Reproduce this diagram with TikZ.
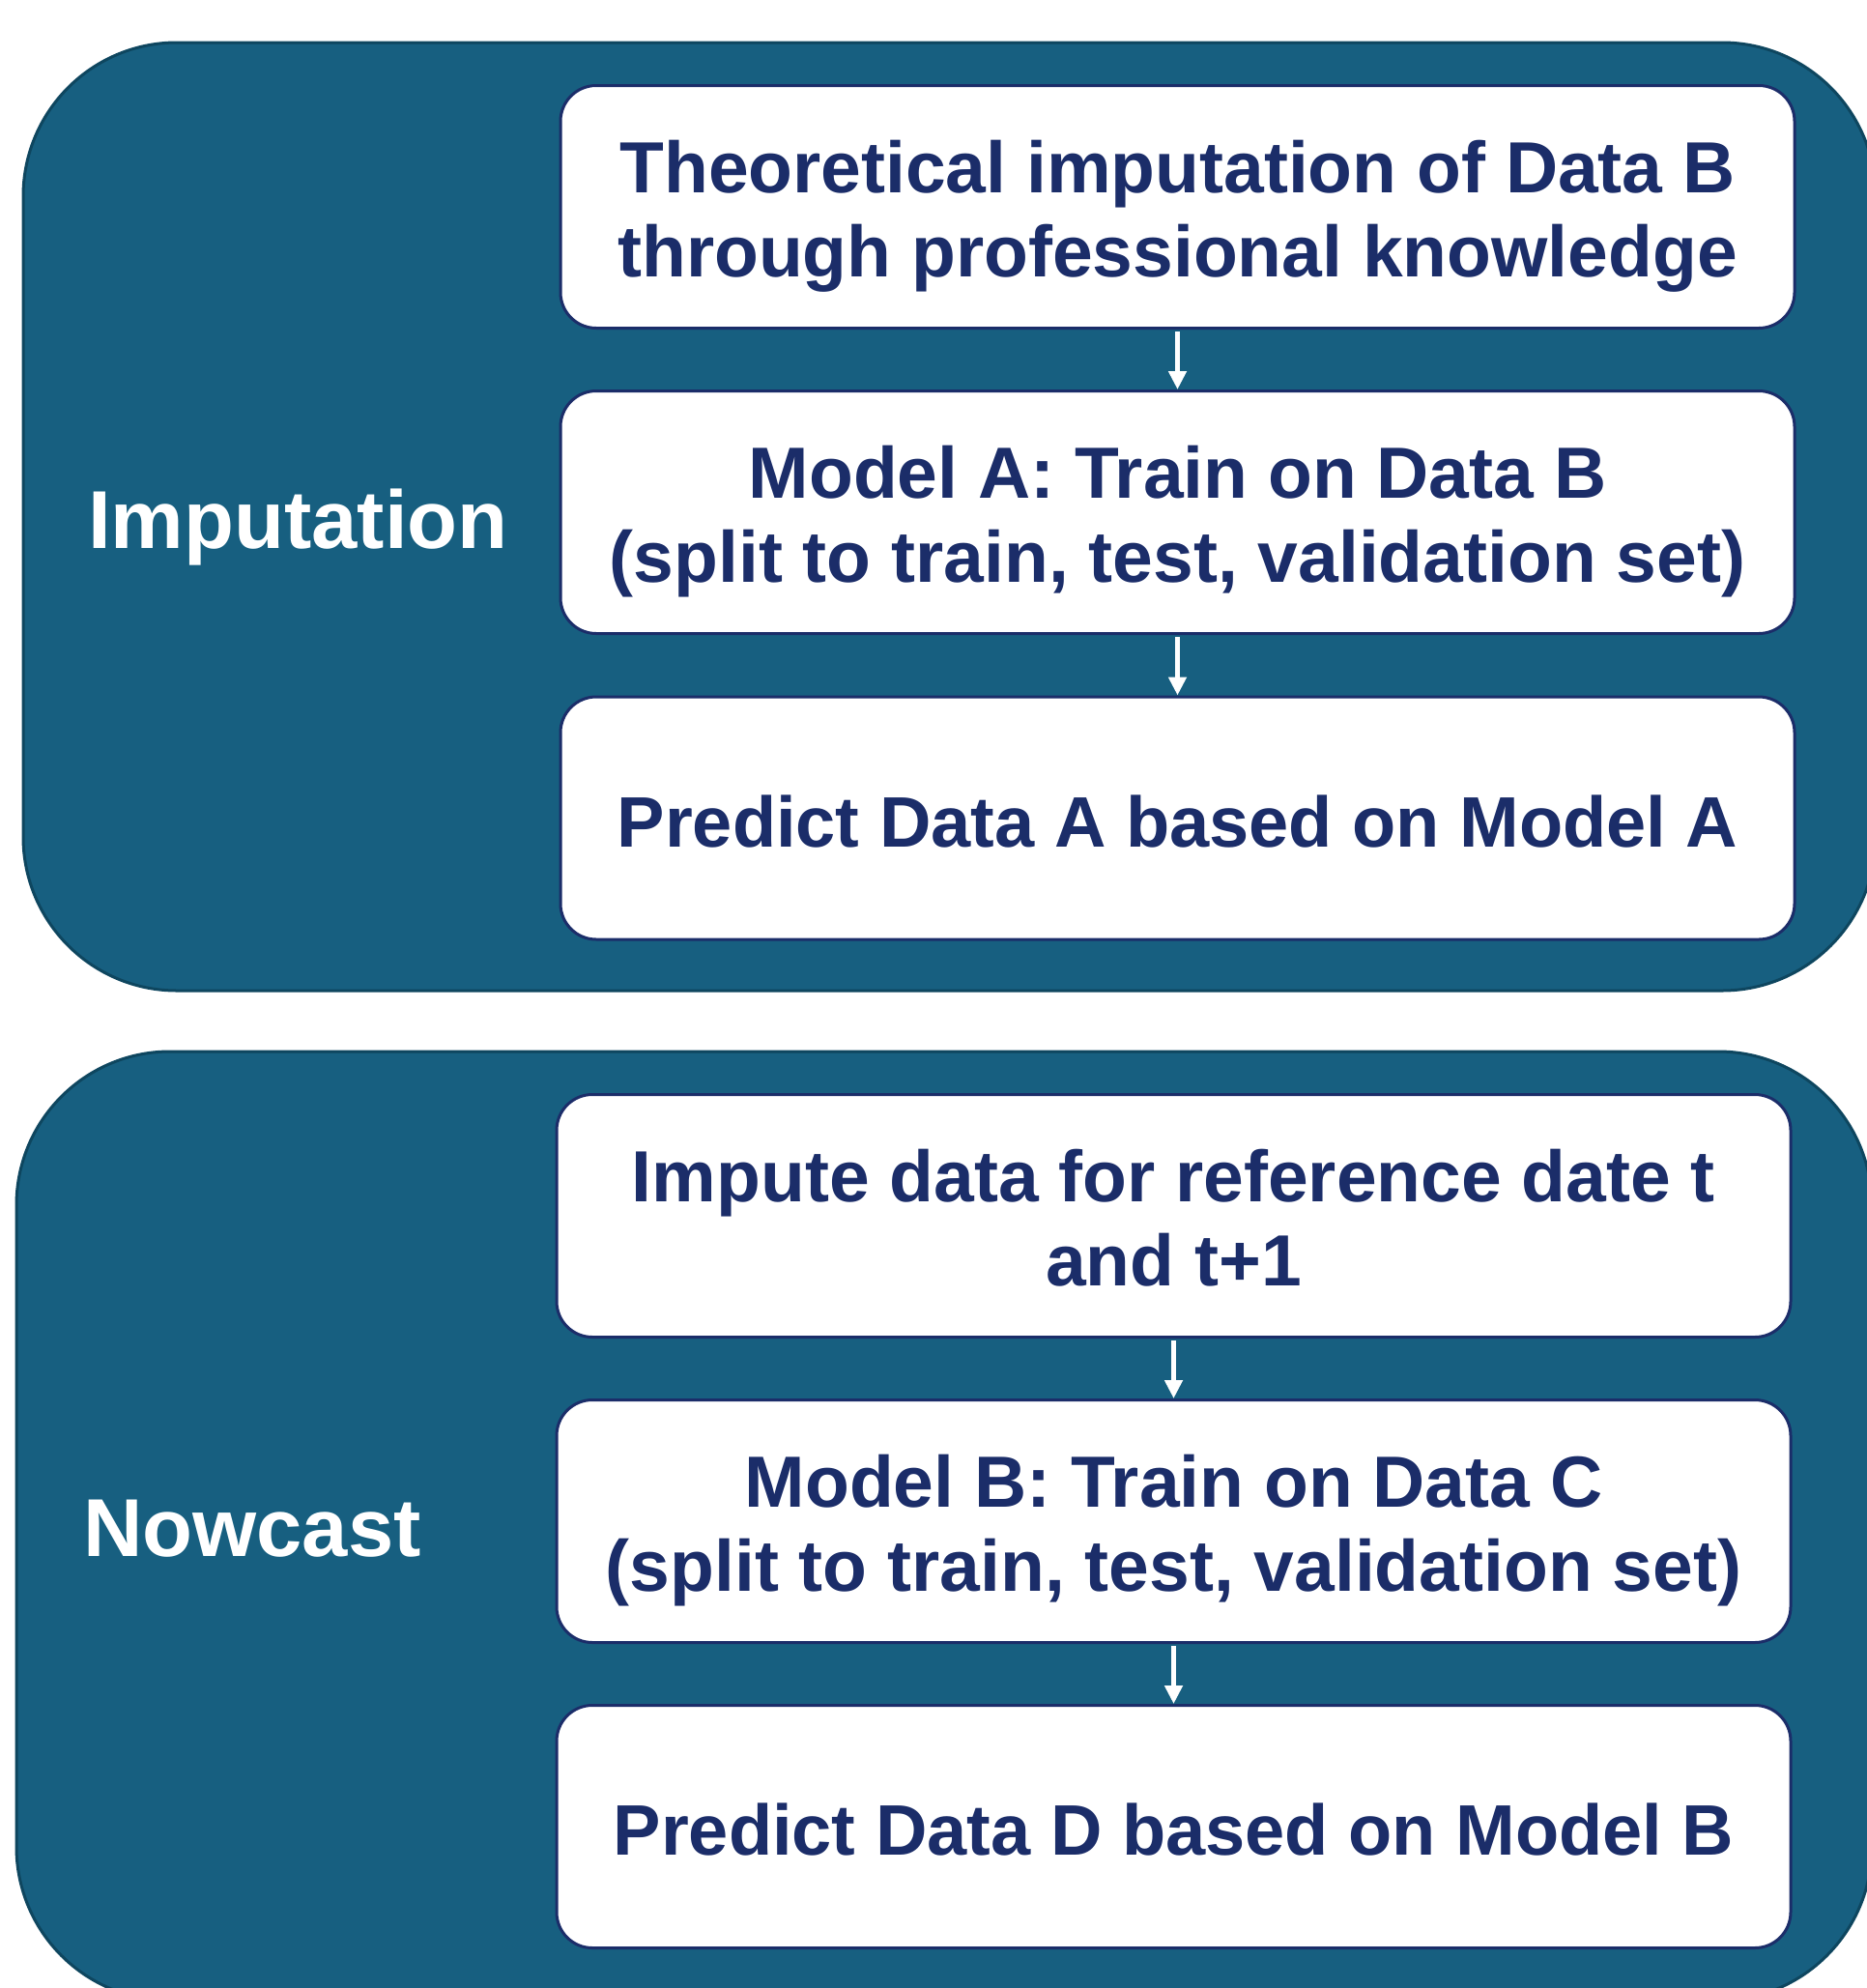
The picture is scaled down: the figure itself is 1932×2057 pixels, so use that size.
\documentclass[tikz,border=0pt]{standalone}
\usepackage{fontspec}
\setmainfont{Liberation Sans}
\usetikzlibrary{arrows.meta}
\definecolor{outerfill}{RGB}{23,95,128}
\definecolor{outerline}{RGB}{14,70,95}
\definecolor{navy}{RGB}{27,45,105}
\newcommand\padtwo{\rule{0pt}{73pt}}
\newcommand\padone{\rule{0pt}{60pt}}
\newcommand\paddown{\rule[-16pt]{0pt}{16pt}}
\begin{document}
\begin{tikzpicture}[x=1pt,y=-1pt,
  outerbox/.style={draw=outerline, line width=3pt, fill=outerfill, rounded corners=159pt, inner sep=0pt},
  stepbox/.style={draw=navy, line width=3pt, fill=white, rounded corners=37pt, minimum width=1277pt, minimum height=251pt, inner sep=0pt, align=center, text=navy, font=\fontsize{75}{87}\selectfont\bfseries},
  onebox/.style={stepbox, font=\fontsize{74}{87}\selectfont\bfseries},
  grouplabel/.style={text=white, inner sep=0pt, anchor=base west, font=\fontsize{85}{96}\selectfont\bfseries},
  flow/.style={draw=white, line width=5pt, shorten <=2pt, -{Triangle[length=19pt,width=18pt]}}
]
\useasboundingbox (0,0) rectangle (1932,2057);

% Imputation group
\node[outerbox, minimum width=1917pt, minimum height=981pt] (out1) at (982.5,534.5) {};
\node[grouplabel] (lab1) at (91,567) {Imputation};
\node[stepbox] (a1) at (1218.5,214) {\padtwo Theoretical imputation of Data B\\through professional knowledge};
\node[stepbox] (a2) at (1218.5,530) {\padtwo Model A: Train on Data B\\(split to train, test, validation set)};
\node[onebox] (a3) at (1218.5,846.5) {\padone Predict Data A based on Model A};
\draw[flow] (a1.south) -- (a2.north);
\draw[flow] (a2.south) -- (a3.north);

% Nowcast group
\node[outerbox, minimum width=1920pt, minimum height=982pt] (out2) at (977,1579) {};
\node[grouplabel] (lab2) at (86,1610) {Nowcast};
\node[stepbox] (c1) at (1214.5,1258) {\padtwo Impute data for reference date t\\and t+1\paddown};
\node[stepbox] (c2) at (1214.5,1574) {\padtwo Model B: Train on Data C\\(split to train, test, validation set)};
\node[onebox] (c3) at (1214.5,1890) {\padone Predict Data D based on Model B};
\draw[flow] (c1.south) -- (c2.north);
\draw[flow] (c2.south) -- (c3.north);
\end{tikzpicture}
\end{document}
